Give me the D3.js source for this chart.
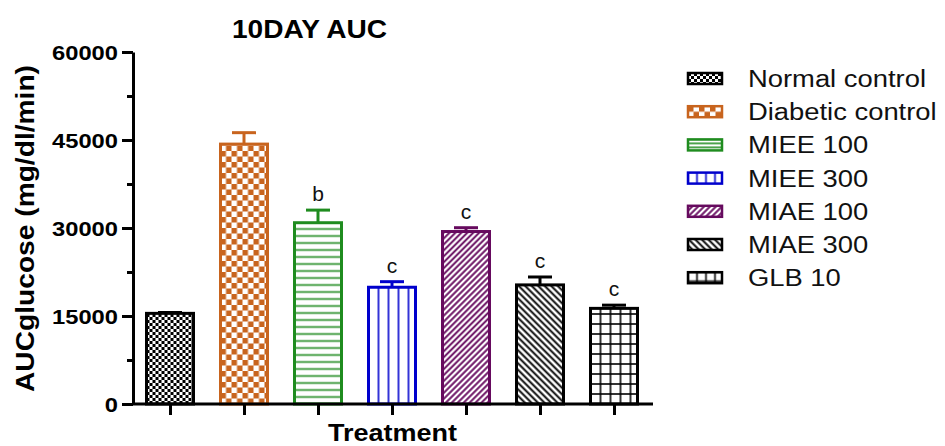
<!DOCTYPE html>
<html>
<head>
<meta charset="utf-8">
<script src="https://cdn.jsdelivr.net/npm/d3@7"></script>
<style>
  body { margin: 0; background: #fff; }
  svg { display: block; font-family: "Liberation Sans", Arial, sans-serif; }
</style>
</head>
<body>
<svg id="chart" width="945" height="446"></svg>
<script>
// data
const groups = ["Normal control", "Diabetic control", "MIEE 100", "MIEE 300", "MIAE 100", "MIAE 300", "GLB 10"];
const means = [15450, 44300, 30900, 19900, 29400, 20300, 16300];
const sems = [150, 1950, 2150, 950, 650, 1350, 550];
const sigLetters = ["", "", "b", "c", "c", "c", "c"];
const yTicks = [0, 15000, 30000, 45000, 60000];
const yMinorTicks = [7500, 22500, 37500, 52500];

const colors = ["#000000", "#c8641e", "#1f8c1f", "#0000cc", "#660a5e", "#000000", "#000000"];
const fills = ["fineCheck", "check", "hlines", "vlines", "diag", "adiag", "grid"];

const svg = d3.select("#chart");
const defs = svg.append("defs");

const x = d3.scalePoint().domain(groups).range([133, 651]).padding(0.5);
const y = d3.scaleLinear().domain([0, 60000]).range([404, 52]);
const barW = 47;

// pattern maker, anchored at (x0,y0) so lines line up with the bar edges
function makePattern(id, type, color, x0, y0, small) {
    let size = {fineCheck: 6, check: 11, hlines: small ? 4 : 7, vlines: small ? 9 : 10,
                diag: 4.2, adiag: 4.6, grid: small ? 9 : 10}[type];
    const lined = ["hlines", "vlines", "grid"].includes(type);
    const p = defs.append("pattern")
        .attr("id", id)
        .attr("patternUnits", "userSpaceOnUse")
        .attr("x", lined ? x0 - size / 2 : x0).attr("y", lined ? y0 - size / 2 : y0)
        .attr("width", size).attr("height", size);
    p.append("rect").attr("width", size).attr("height", size).attr("fill", "#fff");
    const m = size / 2;
    if (type === "fineCheck" || type === "check") {
        p.append("rect").attr("width", m).attr("height", m).attr("fill", color);
        p.append("rect").attr("x", m).attr("y", m).attr("width", m).attr("height", m).attr("fill", color);
    } else if (type === "hlines" || type === "grid") {
        p.append("line").attr("x1", 0).attr("x2", size).attr("y1", m).attr("y2", m)
            .attr("stroke", color).attr("stroke-width", 1.6);
    }
    if (type === "vlines" || type === "grid") {
        p.append("line").attr("y1", 0).attr("y2", size).attr("x1", m).attr("x2", m)
            .attr("stroke", color).attr("stroke-width", 1.6);
    }
    if (type === "diag" || type === "adiag") {
        p.attr("patternTransform", `rotate(${type === "diag" ? 45 : -45})`);
        p.append("line").attr("y1", 0).attr("y2", size).attr("x1", m).attr("x2", m)
            .attr("stroke", color).attr("stroke-width", 1.9);
    }
}

groups.forEach((g, i) => makePattern("pat" + i, fills[i], colors[i], x(g) - barW / 2, y(0), false));

// axes
const yAxis = svg.append("g")
    .attr("transform", "translate(133,0)")
    .call(d3.axisLeft(y).tickValues(yTicks).tickSize(11).tickSizeOuter(0).tickFormat(""));
svg.append("g")
    .attr("transform", "translate(133,0)")
    .call(d3.axisLeft(y).tickValues(yMinorTicks).tickSize(6).tickFormat(""))
    .select(".domain").remove();
svg.selectAll(".tick line").attr("stroke", "#000").attr("stroke-width", 3);
yAxis.select(".domain").attr("stroke", "#000").attr("stroke-width", 3);

// tick labels drawn as plain text so the size sticks
svg.append("g").selectAll("text")
    .data(yTicks)
    .enter().append("text")
    .attr("x", 118)
    .attr("y", d => y(d) + 7.5)
    .attr("text-anchor", "end")
    .style("font-size", "21px").style("font-weight", "bold")
    .attr("fill", "#000")
    .text(d => d)
    .each(function () {
        d3.select(this).attr("textLength", this.getComputedTextLength() * 1.13)
            .attr("lengthAdjust", "spacingAndGlyphs");
    });

// bars
const bars = svg.append("g");
bars.selectAll("line.err")
    .data(groups)
    .enter().append("line")
    .attr("x1", d => x(d)).attr("x2", d => x(d))
    .attr("y1", (d, i) => y(means[i])).attr("y2", (d, i) => y(means[i] + sems[i]))
    .attr("stroke", (d, i) => colors[i]).attr("stroke-width", 3);
bars.selectAll("line.cap")
    .data(groups)
    .enter().append("line")
    .attr("x1", d => x(d) - 12).attr("x2", d => x(d) + 12)
    .attr("y1", (d, i) => y(means[i] + sems[i])).attr("y2", (d, i) => y(means[i] + sems[i]))
    .attr("stroke", (d, i) => colors[i]).attr("stroke-width", 3);
bars.selectAll("rect")
    .data(groups)
    .enter().append("rect")
    .attr("x", d => x(d) - barW / 2)
    .attr("width", barW)
    .attr("y", (d, i) => y(means[i]))
    .attr("height", (d, i) => y(0) - y(means[i]))
    .attr("fill", (d, i) => `url(#pat${i})`)
    .attr("stroke", (d, i) => colors[i])
    .attr("stroke-width", 3);

bars.selectAll("text")
    .data(groups)
    .enter().append("text")
    .attr("x", d => x(d))
    .attr("y", (d, i) => y(means[i] + sems[i]) - 9)
    .attr("text-anchor", "middle")
    .style("font-size", "21px")
    .attr("fill", "#111")
    .text((d, i) => sigLetters[i]);

const xAxis = svg.append("g")
    .attr("transform", "translate(0,404)")
    .call(d3.axisBottom(x).tickSize(11).tickSizeOuter(0).tickFormat(""));
xAxis.select(".domain").attr("stroke", "#000").attr("stroke-width", 3).attr("d", "M133,0H653");
xAxis.selectAll(".tick line").attr("stroke", "#000").attr("stroke-width", 3);

// titles
svg.append("text")
    .attr("x", 309.5).attr("y", 38)
    .attr("text-anchor", "middle")
    .style("font-size", "25px").style("font-weight", "bold")
    .attr("textLength", 155).attr("lengthAdjust", "spacingAndGlyphs")
    .text("10DAY AUC");

svg.append("text")
    .attr("transform", "translate(34,228.5) rotate(-90)")
    .attr("text-anchor", "middle")
    .style("font-size", "26px").style("font-weight", "bold")
    .attr("textLength", 327).attr("lengthAdjust", "spacingAndGlyphs")
    .text("AUCglucose (mg/dl/min)");

svg.append("text")
    .attr("x", 392.5).attr("y", 441)
    .attr("text-anchor", "middle")
    .style("font-size", "24px").style("font-weight", "bold")
    .attr("textLength", 129).attr("lengthAdjust", "spacingAndGlyphs")
    .text("Treatment");

// legend
const legend = svg.append("g");
groups.forEach((g, i) => {
    const cy = 78.5 + i * 33.2;
    makePattern("leg" + i, fills[i], colors[i], 688, cy - 5.5, true);
    legend.append("rect")
        .attr("x", 688).attr("y", cy - 5.5)
        .attr("width", 34).attr("height", 11)
        .attr("fill", `url(#leg${i})`)
        .attr("stroke", colors[i]).attr("stroke-width", 2.5);
    legend.append("text")
        .attr("x", 748).attr("y", cy + 8.5)
        .style("font-size", "23px")
        .attr("fill", "#111")
        .text(g)
        .each(function () {
            d3.select(this).attr("textLength", this.getComputedTextLength() * 1.19)
                .attr("lengthAdjust", "spacingAndGlyphs");
        });
});
</script>
</body>
</html>
